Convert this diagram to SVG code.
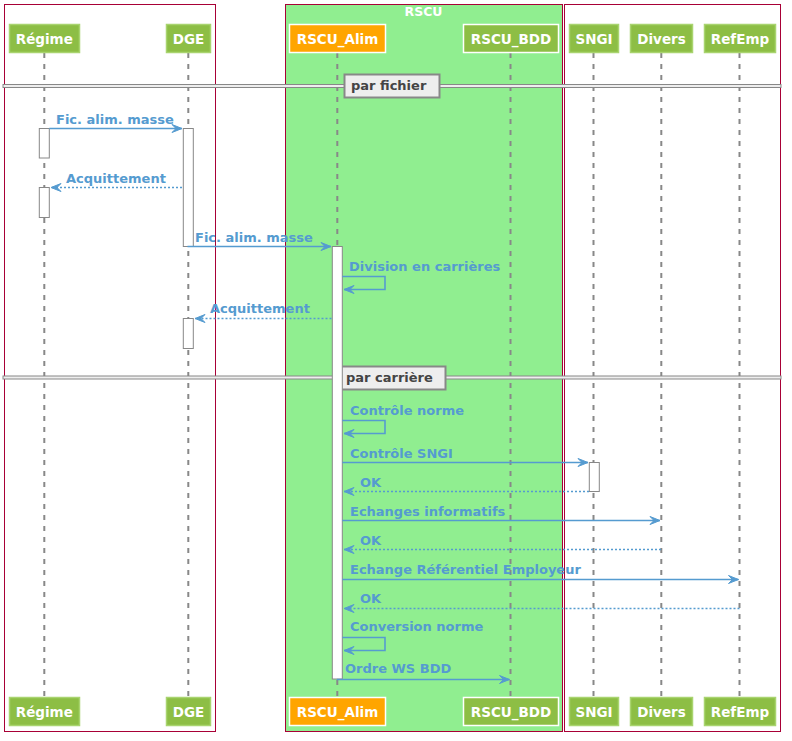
<svg xmlns="http://www.w3.org/2000/svg" width="792" height="741" viewBox="0 0 792 741">
  <defs>
    <style>
      .box { stroke: #A80036; stroke-width: 1; }
      .lifeline { stroke: #888888; stroke-width: 2; stroke-dasharray: 5,6; fill: none; }
      .part { fill: #8DBE45; stroke: #A9D46F; stroke-width: 1.5; }
      .part-w { fill: #8DBE45; stroke: #FFFFFF; stroke-width: 1.5; }
      .part-o { fill: #FFA500; stroke: #FFFFFF; stroke-width: 1.5; }
      .pname { font-family: "DejaVu Sans", sans-serif; font-size: 13.5px; font-weight: bold; fill: #FFFFFF; text-anchor: middle; }
      .act { fill: #FFFFFF; stroke: #888888; stroke-width: 1; }
      .msg { stroke: #559BD0; stroke-width: 1.6; fill: none; }
      .dotted { stroke-dasharray: 2,2; }
      .head { fill: #559BD0; stroke: #559BD0; stroke-width: 1; }
      .mlabel { font-family: "DejaVu Sans", sans-serif; font-size: 13px; font-weight: bold; fill: #559BD0; }
      .sep { fill: #EEEEEE; stroke: #888888; stroke-width: 1; }
      .seplabel-box { fill: #EEEEEE; stroke: #888888; stroke-width: 2; }
      .seplabel { font-family: "DejaVu Sans", sans-serif; font-size: 13px; font-weight: bold; fill: #444444; }
    </style>
  </defs>

  <rect width="792" height="741" fill="#FFFFFF"/>

  <!-- participant boxes -->
  <g id="box-left">
    <rect class="box" x="4.5" y="4.5" width="211" height="727" fill="none"/>
  </g>
  <g id="box-rscu">
    <rect class="box" x="285.5" y="4.5" width="277" height="727" fill="#90EE90"/>
    <text x="423.5" y="16" font-family="DejaVu Sans, sans-serif" font-size="12.5" font-weight="bold" fill="#FFFFFF" text-anchor="middle">RSCU</text>
  </g>
  <g id="box-right">
    <rect class="box" x="564.5" y="4.5" width="216" height="727" fill="none"/>
  </g>

  <!-- lifelines -->
  <g id="lifelines">
    <line class="lifeline" x1="44.3" y1="53" x2="44.3" y2="697"/>
    <line class="lifeline" x1="188.3" y1="53" x2="188.3" y2="697"/>
    <line class="lifeline" x1="337.3" y1="53" x2="337.3" y2="697"/>
    <line class="lifeline" x1="510.5" y1="53" x2="510.5" y2="697"/>
    <line class="lifeline" x1="593.5" y1="53" x2="593.5" y2="697"/>
    <line class="lifeline" x1="661.3" y1="53" x2="661.3" y2="697"/>
    <line class="lifeline" x1="739.5" y1="53" x2="739.5" y2="697"/>
  </g>

  <!-- dividers -->
  <g id="divider-fichier">
    <rect class="sep" x="3" y="84.5" width="778" height="3"/>
    <rect class="seplabel-box" x="344.5" y="74.5" width="95" height="23"/>
    <text class="seplabel" x="351" y="90">par fichier</text>
  </g>
  <g id="divider-carriere">
    <rect class="sep" x="3" y="376" width="778" height="3"/>
    <rect class="seplabel-box" x="339.5" y="366.5" width="106" height="23"/>
    <text class="seplabel" x="346" y="382">par carrière</text>
  </g>

  <!-- activations -->
  <g id="activations">
    <rect class="act" x="39.3" y="128.5" width="10" height="29.5"/>
    <rect class="act" x="39.3" y="187.5" width="10" height="30"/>
    <rect class="act" x="183.3" y="128.5" width="10" height="118"/>
    <rect class="act" x="183.3" y="318.5" width="10" height="30"/>
    <rect class="act" x="332.3" y="246.5" width="10" height="432.5"/>
    <rect class="act" x="589.3" y="462.5" width="10" height="29"/>
  </g>

  <!-- messages -->
  <g id="connectors">
    <!-- Régime -> DGE -->
    <line class="msg" x1="49.3" y1="128.5" x2="182" y2="128.5"/>
    <polygon class="head" points="172,124.5 182,128.5 172,132.5 176,128.5"/>
    <text class="mlabel" x="56" y="124">Fic. alim. masse</text>

    <!-- DGE -> Régime (reply) -->
    <line class="msg dotted" x1="182" y1="187.5" x2="51" y2="187.5"/>
    <polygon class="head" points="61,183.5 51,187.5 61,191.5 57,187.5"/>
    <text class="mlabel" x="66" y="183">Acquittement</text>

    <!-- DGE -> RSCU_Alim -->
    <line class="msg" x1="187.5" y1="246.5" x2="331" y2="246.5"/>
    <polygon class="head" points="321,242.5 331,246.5 321,250.5 325,246.5"/>
    <text class="mlabel" x="195" y="242">Fic. alim. masse</text>

    <!-- RSCU_Alim self: Division en carrières -->
    <polyline class="msg" points="342.3,276.5 385,276.5 385,289.5 344,289.5"/>
    <polygon class="head" points="354,285.5 344,289.5 354,293.5 350,289.5"/>
    <text class="mlabel" x="349" y="271">Division en carrières</text>

    <!-- RSCU_Alim -> DGE (reply) -->
    <line class="msg dotted" x1="331.5" y1="318.5" x2="195" y2="318.5"/>
    <polygon class="head" points="205,314.5 195,318.5 205,322.5 201,318.5"/>
    <text class="mlabel" x="210" y="313">Acquittement</text>

    <!-- RSCU_Alim self: Contrôle norme -->
    <polyline class="msg" points="342.3,420.5 385,420.5 385,433.5 344,433.5"/>
    <polygon class="head" points="354,429.5 344,433.5 354,437.5 350,433.5"/>
    <text class="mlabel" x="350" y="415">Contrôle norme</text>

    <!-- RSCU_Alim -> SNGI -->
    <line class="msg" x1="342.3" y1="462.5" x2="588" y2="462.5"/>
    <polygon class="head" points="578,458.5 588,462.5 578,466.5 582,462.5"/>
    <text class="mlabel" x="350" y="458">Contrôle SNGI</text>

    <!-- SNGI -> RSCU_Alim -->
    <line class="msg dotted" x1="589" y1="491.5" x2="344" y2="491.5"/>
    <polygon class="head" points="354,487.5 344,491.5 354,495.5 350,491.5"/>
    <text class="mlabel" x="360" y="487">OK</text>

    <!-- RSCU_Alim -> Divers -->
    <line class="msg" x1="342.3" y1="520.5" x2="660" y2="520.5"/>
    <polygon class="head" points="650,516.5 660,520.5 650,524.5 654,520.5"/>
    <text class="mlabel" x="350" y="516">Echanges informatifs</text>

    <!-- Divers -> RSCU_Alim -->
    <line class="msg dotted" x1="661" y1="549.5" x2="344" y2="549.5"/>
    <polygon class="head" points="354,545.5 344,549.5 354,553.5 350,549.5"/>
    <text class="mlabel" x="360" y="545">OK</text>

    <!-- RSCU_Alim -> RefEmp -->
    <line class="msg" x1="342.3" y1="579.5" x2="738.5" y2="579.5"/>
    <polygon class="head" points="728.5,575.5 738.5,579.5 728.5,583.5 732.5,579.5"/>
    <text class="mlabel" x="350" y="574">Echange Référentiel Employeur</text>

    <!-- RefEmp -> RSCU_Alim -->
    <line class="msg dotted" x1="739.5" y1="608.5" x2="344" y2="608.5"/>
    <polygon class="head" points="354,604.5 344,608.5 354,612.5 350,608.5"/>
    <text class="mlabel" x="360" y="603">OK</text>

    <!-- RSCU_Alim self: Conversion norme -->
    <polyline class="msg" points="342.3,637.5 385,637.5 385,650.5 344,650.5"/>
    <polygon class="head" points="354,646.5 344,650.5 354,654.5 350,650.5"/>
    <text class="mlabel" x="350" y="631">Conversion norme</text>

    <!-- RSCU_Alim -> RSCU_BDD -->
    <line class="msg" x1="336.8" y1="679.5" x2="509.5" y2="679.5"/>
    <polygon class="head" points="499.5,675.5 509.5,679.5 499.5,683.5 503.5,679.5"/>
    <text class="mlabel" x="345" y="673">Ordre WS BDD</text>
  </g>

  <!-- participants (head and foot) -->
  <g id="regime">
    <rect class="part" x="9.5" y="24.5" width="70" height="28"/>
    <text class="pname" x="44.3" y="43.5">Régime</text>
    <rect class="part" x="9.5" y="697.5" width="70" height="28"/>
    <text class="pname" x="44.3" y="716.5">Régime</text>
  </g>
  <g id="dge">
    <rect class="part" x="166.5" y="24.5" width="44" height="28"/>
    <text class="pname" x="188.5" y="43.5">DGE</text>
    <rect class="part" x="166.5" y="697.5" width="44" height="28"/>
    <text class="pname" x="188.5" y="716.5">DGE</text>
  </g>
  <g id="rscu-alim">
    <rect class="part-o" x="289.5" y="24.5" width="96" height="28"/>
    <text class="pname" x="337.5" y="43.5">RSCU_Alim</text>
    <rect class="part-o" x="289.5" y="697.5" width="96" height="28"/>
    <text class="pname" x="337.5" y="716.5">RSCU_Alim</text>
  </g>
  <g id="rscu-bdd">
    <rect class="part-w" x="463.5" y="24.5" width="95" height="28"/>
    <text class="pname" x="511" y="43.5">RSCU_BDD</text>
    <rect class="part-w" x="463.5" y="697.5" width="95" height="28"/>
    <text class="pname" x="511" y="716.5">RSCU_BDD</text>
  </g>
  <g id="sngi">
    <rect class="part" x="569.5" y="24.5" width="49" height="28"/>
    <text class="pname" x="594" y="43.5">SNGI</text>
    <rect class="part" x="569.5" y="697.5" width="49" height="28"/>
    <text class="pname" x="594" y="716.5">SNGI</text>
  </g>
  <g id="divers">
    <rect class="part" x="630.5" y="24.5" width="62" height="28"/>
    <text class="pname" x="661.5" y="43.5">Divers</text>
    <rect class="part" x="630.5" y="697.5" width="62" height="28"/>
    <text class="pname" x="661.5" y="716.5">Divers</text>
  </g>
  <g id="refemp">
    <rect class="part" x="704.5" y="24.5" width="71" height="28"/>
    <text class="pname" x="740" y="43.5">RefEmp</text>
    <rect class="part" x="704.5" y="697.5" width="71" height="28"/>
    <text class="pname" x="740" y="716.5">RefEmp</text>
  </g>
</svg>
